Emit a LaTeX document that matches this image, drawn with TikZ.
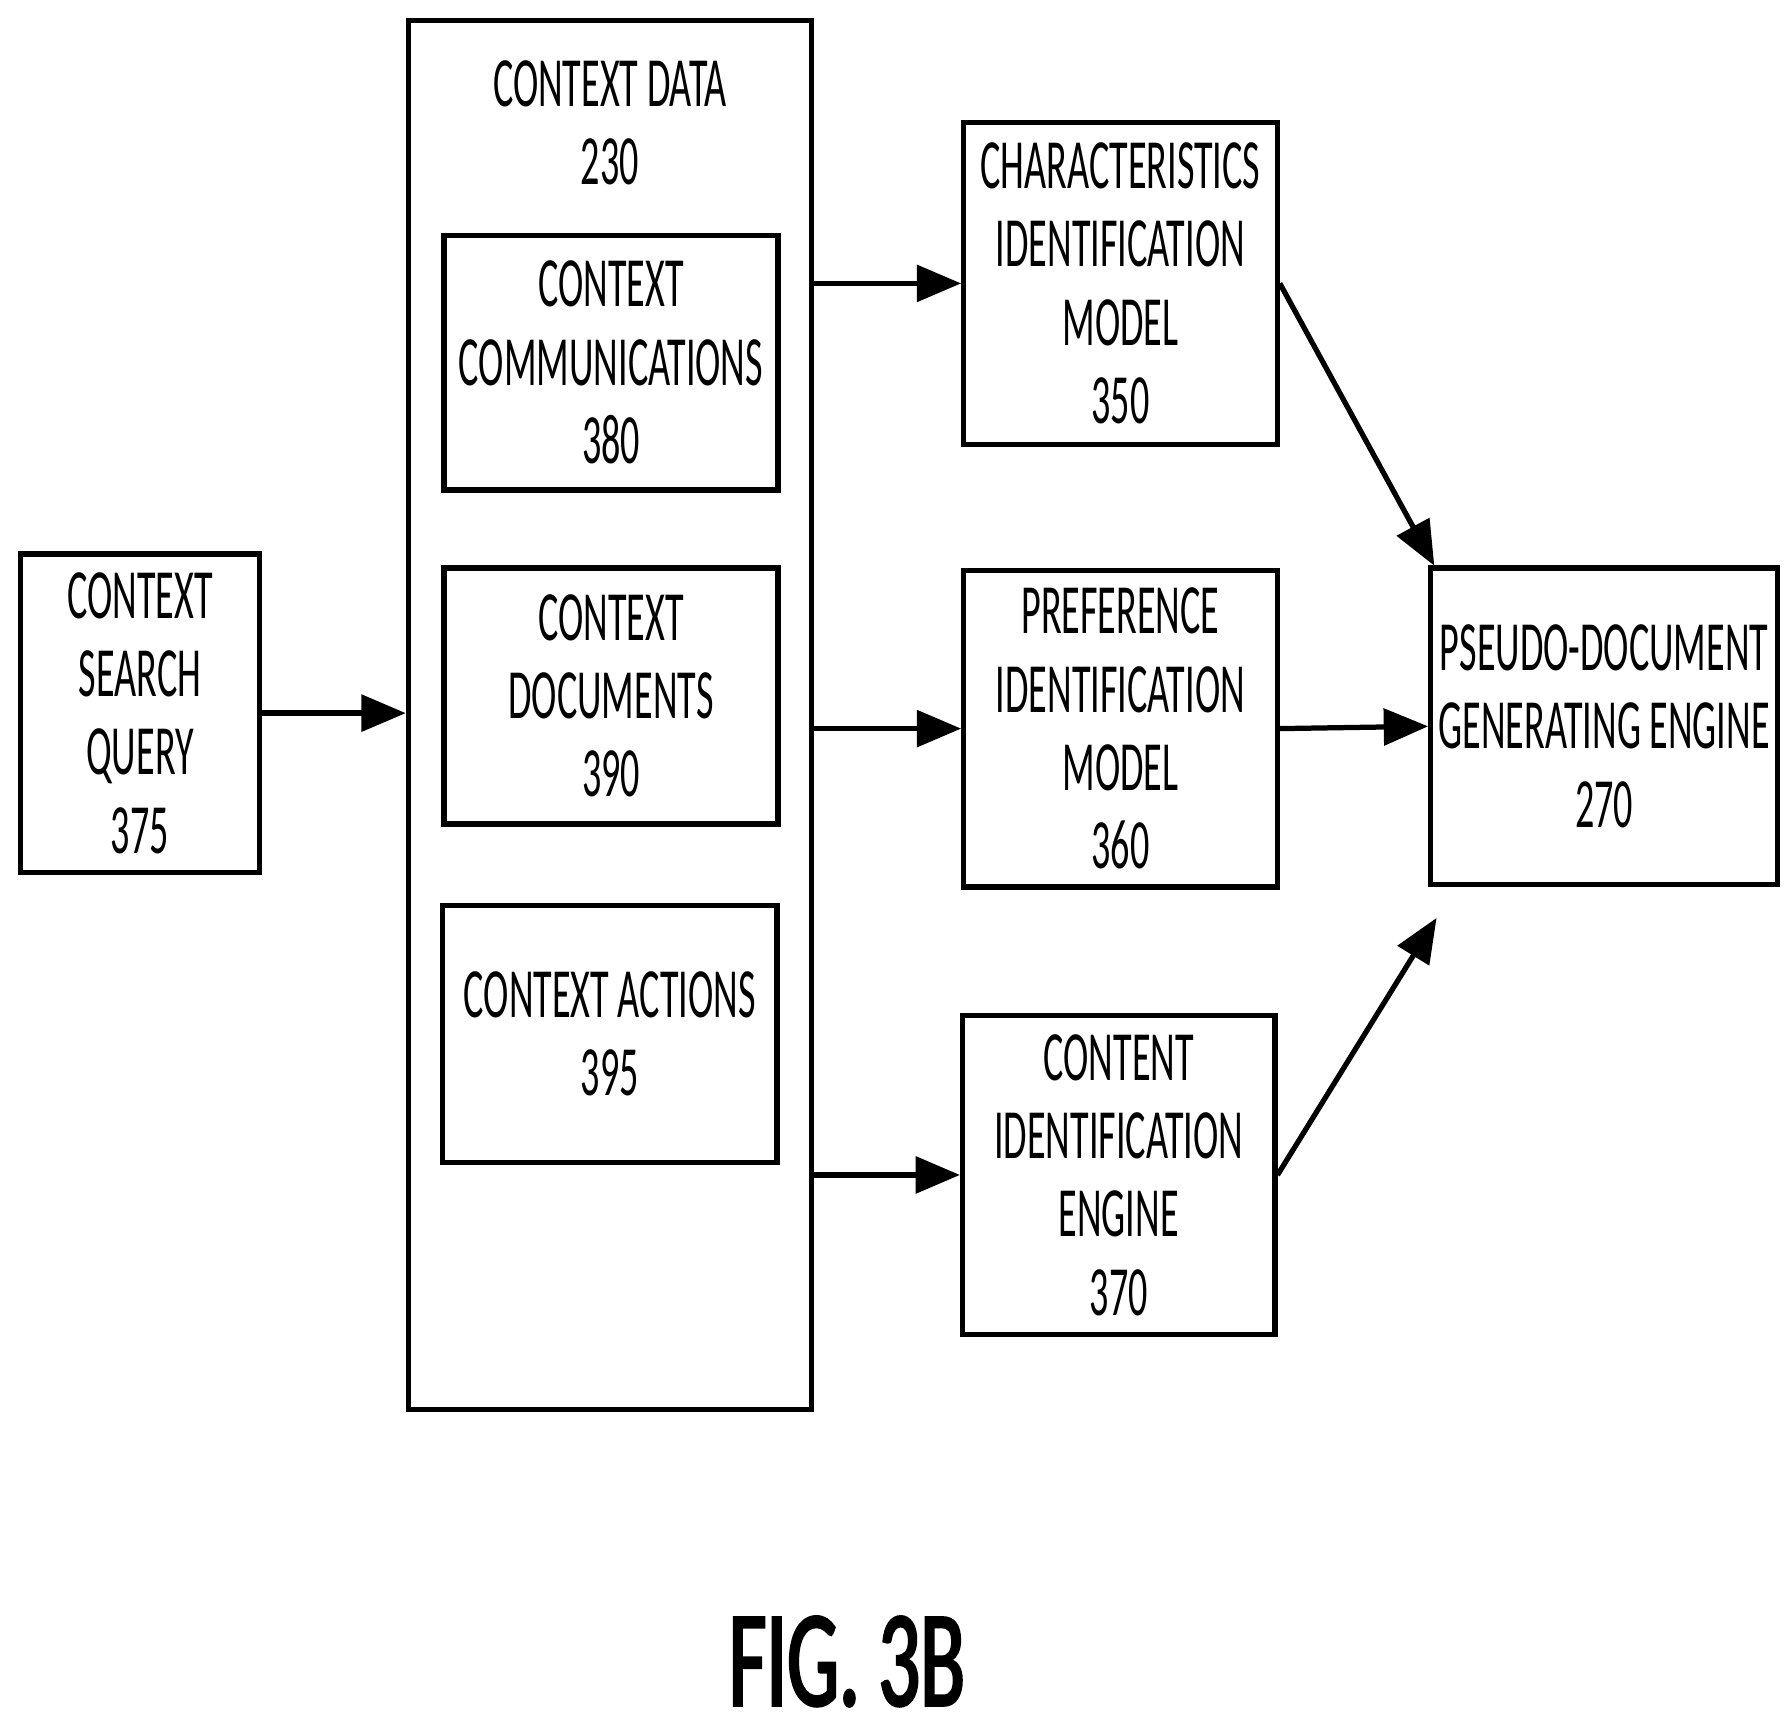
\documentclass[tikz,border=0pt]{standalone}
\usepackage{fontspec}
\setmainfont{Carlito}[FakeStretch=0.54]
\newfontfamily\figfont{Carlito}[FakeStretch=0.6,FakeBold=2]
\usetikzlibrary{arrows.meta}
\begin{document}
\begin{tikzpicture}[x=0.01cm,y=-0.01cm,
  box/.style={draw,line width=1.3pt,inner sep=0pt,align=center,font=\fontsize{17.5}{19.4}\selectfont},
  txt/.style={inner sep=0pt,align=center,font=\fontsize{17.5}{19.4}\selectfont},
  arr/.style={line width=1.3pt,-{Triangle[length=11pt,width=9pt]}}]
\useasboundingbox (0,0) rectangle (1560,1507);
\node[box,minimum width=2.08cm,minimum height=2.77cm] (q) at (122,621.5) {CONTEXT\\SEARCH\\QUERY\\375};
\node[box,minimum width=3.51cm,minimum height=12.10cm] (cd) at (531.5,623) {};
\node[txt] (cdt) at (531.5,107) {CONTEXT DATA\\230};
\node[box,minimum width=2.91cm,minimum height=2.22cm] (cc) at (532.5,316) {CONTEXT\\COMMUNICATIONS\\380};
\node[box,minimum width=2.91cm,minimum height=2.23cm] (doc) at (532.5,606.5) {CONTEXT\\DOCUMENTS\\390};
\node[box,minimum width=2.91cm,minimum height=2.24cm] (act) at (531.5,901) {CONTEXT ACTIONS\\395};
\node[box,minimum width=2.73cm,minimum height=2.80cm] (ch) at (976.5,247) {CHARACTERISTICS\\IDENTIFICATION\\MODEL\\350};
\node[box,minimum width=2.73cm,minimum height=2.76cm] (pr) at (976.5,635) {PREFERENCE\\IDENTIFICATION\\MODEL\\360};
\node[box,minimum width=2.72cm,minimum height=2.78cm] (co) at (975,1024) {CONTENT\\IDENTIFICATION\\ENGINE\\370};
\node[box,minimum width=3.02cm,minimum height=2.76cm] (ps) at (1398,633) {PSEUDO-DOCUMENT\\GENERATING ENGINE\\270};
\coordinate (pstop) at (1250,493);
\coordinate (psbot) at (1252,800);
\draw[arr] (q.east) -- (cd.west |- q.east);
\draw[arr] (cd.east |- ch.west) -- (ch.west);
\draw[arr] (cd.east |- pr.west) -- (pr.west);
\draw[arr] (cd.east |- co.west) -- (co.west);
\draw[arr] (ch.east) -- (pstop);
\draw[arr] (pr.east) -- (ps.west);
\draw[arr] (co.east) -- (psbot);
\node[inner sep=0pt,font=\figfont\fontsize{34}{38}\selectfont] (fig) at (738,1448) {FIG. 3B};
\end{tikzpicture}
\end{document}
